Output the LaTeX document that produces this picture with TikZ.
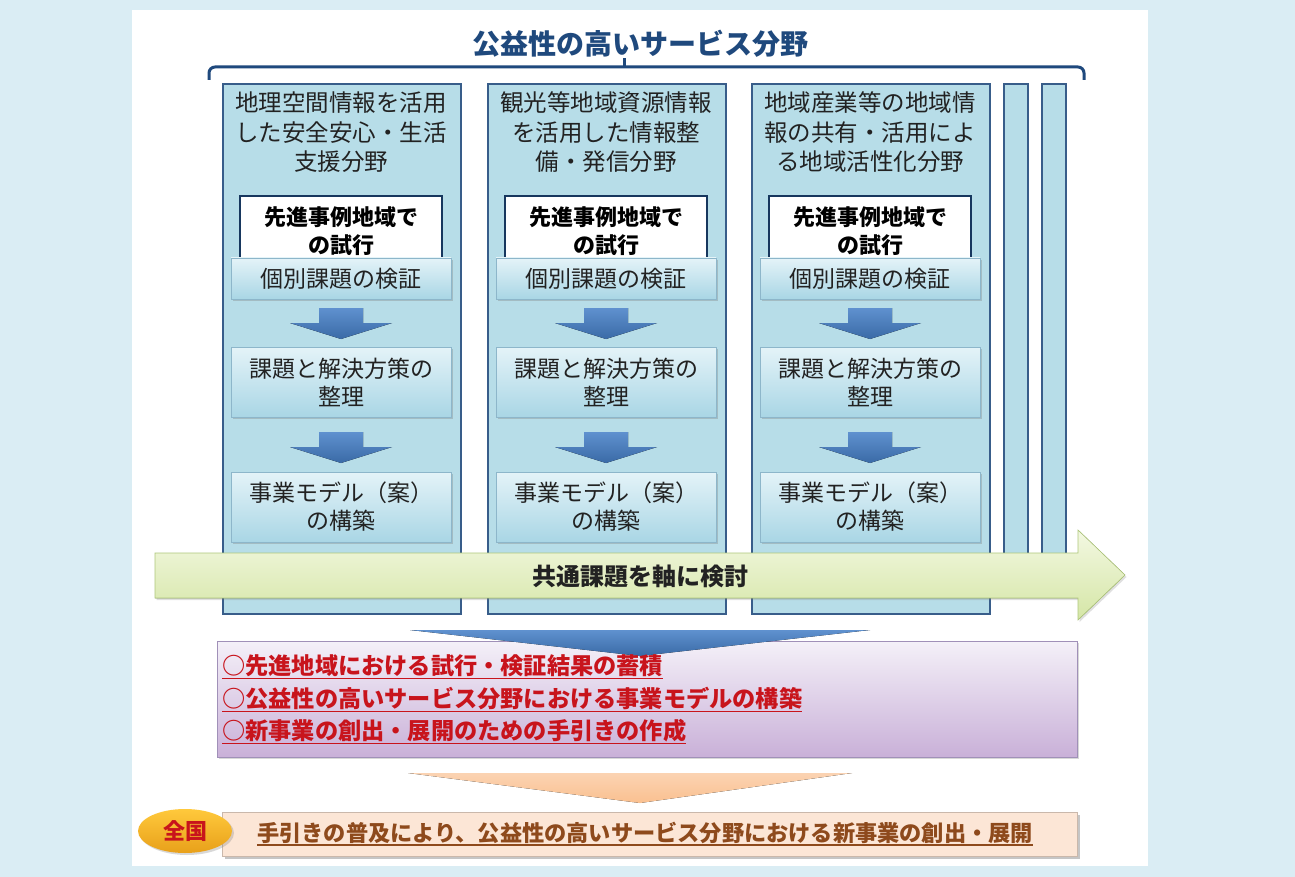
\documentclass[tikz,border=0pt]{standalone}
\usepackage{fontspec}
\setmainfont{Noto Sans CJK JP}
\usetikzlibrary{shadows,shapes.geometric,calc}
\definecolor{bgblue}{HTML}{DAEDF4}
\definecolor{navy}{HTML}{1F497D}
\definecolor{colfill}{HTML}{B7DDE8}
\definecolor{colborder}{HTML}{385D8A}
\definecolor{steptop}{HTML}{E4F3F8}
\definecolor{stepbot}{HTML}{A9D6E5}
\definecolor{stepborder}{HTML}{8DB6CA}
\definecolor{arrtop}{HTML}{5F91CF}
\definecolor{arrbot}{HTML}{3A6AA6}
\definecolor{trialborder}{HTML}{17375E}
\definecolor{txtdark}{HTML}{222222}
\definecolor{greentop}{HTML}{F3F8E2}
\definecolor{greenbot}{HTML}{D5E6A6}
\definecolor{greenborder}{HTML}{AFC77A}
\definecolor{purptop}{HTML}{F4F0F8}
\definecolor{purpbot}{HTML}{C9B0D8}
\definecolor{purpborder}{HTML}{A090B8}
\definecolor{redtxt}{HTML}{C8141C}
\definecolor{orangetri}{HTML}{FAC090}
\definecolor{orangetop}{HTML}{FBD3B2}
\definecolor{barfill}{HTML}{FCE6D6}
\definecolor{browntxt}{HTML}{8E4A1C}
\definecolor{goldtop}{HTML}{FFC93C}
\definecolor{goldbot}{HTML}{E8A01A}
\newcommand\bluedownarrow[2]{%
  \fill[top color=arrtop,bottom color=arrbot]
    ({#1-22},#2) -- ({#1+22},#2) -- ({#1+22},{#2+15}) -- ({#1+51},{#2+15})
    -- (#1,{#2+31}) -- ({#1-51},{#2+15}) -- ({#1-22},{#2+15}) -- cycle;}
\newcommand\makecolumn[3]{%
  \node[colbox,minimum width=238pt,minimum height=530pt,anchor=north west] (col#2) at (#1,83) {};
  \node[headtext] (head#2) at ({#1+119},132.5) {#3};
  \node[trialbox] (trial#2) at ({#1+119},231) {先進事例地域で\\の試行};
  \node[stepbox,minimum height=41pt] (verify#2) at ({#1+119},278.5) {個別課題の検証};
  \bluedownarrow{#1+119}{308}
  \node[stepbox,minimum height=70pt] (sort#2) at ({#1+119},382) {課題と解決方策の\\整理};
  \bluedownarrow{#1+119}{432}
  \node[stepbox,minimum height=70pt] (model#2) at ({#1+119},507) {事業モデル（案）\\の構築};
}
\begin{document}
\begin{tikzpicture}[x=1pt,y=-1pt,
  colbox/.style={draw=colborder,line width=2.2pt,fill=colfill},
  headtext/.style={align=center,inner sep=0pt,text=txtdark,font=\fontsize{23.5}{29.5}\selectfont},
  trialbox/.style={draw=trialborder,line width=2.4pt,fill=white,minimum width=202pt,minimum height=70pt,
    align=center,inner sep=0pt,text=black,font=\fontsize{22}{28}\selectfont\bfseries},
  stepbox/.style={draw=stepborder,line width=0.6pt,top color=steptop,bottom color=stepbot,
    drop shadow={shadow xshift=1.5pt,shadow yshift=-2pt,opacity=0.35},
    minimum width=220pt,align=center,inner sep=0pt,text=txtdark,font=\fontsize{23}{28}\selectfont},
  redline/.style={anchor=west,inner sep=0pt,text=redtxt,font=\fontsize{23.2}{26}\selectfont\bfseries}
]
\useasboundingbox (0,0) rectangle (1295,877);
\fill[bgblue] (0,0) rectangle (1295,877);
\fill[white] (132,10) rectangle (1148,866);

% title and bracket
\node[text=navy,font=\fontsize{28}{32}\selectfont\bfseries] (title) at (640,44) {公益性の高いサービス分野};
\draw[navy,line width=3pt,rounded corners=6pt] (209,80) -- (209,67) -- (1084,67) -- (1084,80);
\coordinate (tickbot) at (624,67);
\coordinate (ticktop) at (624,58);
\draw[navy,line width=3pt] (tickbot) -- (ticktop);

% narrow strips
\node[colbox,minimum width=24pt,minimum height=500pt,anchor=north west] (strip1) at (1003,83) {};
\node[colbox,minimum width=24pt,minimum height=500pt,anchor=north west] (strip2) at (1041,83) {};

% columns
\makecolumn{222}{1}{地理空間情報を活用\\した安全安心・生活\\支援分野}
\makecolumn{487}{2}{観光等地域資源情報\\を活用した情報整\\備・発信分野}
\makecolumn{751}{3}{地域産業等の地域情\\報の共有・活用によ\\る地域活性化分野}

% green axis arrow
\fill[top color=greentop,bottom color=greenbot,draw=greenborder,line width=0.6pt,
  drop shadow={shadow xshift=1.5pt,shadow yshift=-2pt,opacity=0.25}]
  (155,553) -- (1078,553) -- (1078,530) -- (1125,575) -- (1078,620) -- (1078,598) -- (155,598) -- cycle;
\node[text=txtdark,font=\fontsize{24}{28}\selectfont\bfseries] (axis) at (640,576) {共通課題を軸に検討};

% purple result box
\node[draw=purpborder,line width=0.8pt,top color=purptop,bottom color=purpbot,
  drop shadow={shadow xshift=2pt,shadow yshift=-2pt,opacity=0.3},
  minimum width=860pt,minimum height=116pt,anchor=north west] (result) at (217,641) {};
\fill[top color=arrtop,bottom color=arrbot] (410,630) -- (870,630) -- (640,656) -- cycle;
\node[redline] (r1) at (222,666) {○先進地域における試行・検証結果の蓄積};
\node[redline] (r2) at (222,699) {○公益性の高いサービス分野における事業モデルの構築};
\node[redline] (r3) at (222,731) {○新事業の創出・展開のための手引きの作成};
\foreach \r in {r1,r2,r3}
  \draw[redtxt,line width=1.4pt] ([yshift=-1pt]\r.south west) -- ([yshift=-1pt]\r.south east);

% orange triangle
\fill[top color=orangetop,bottom color=orangetri] (408,773) -- (852,773) -- (640,803) -- cycle;

% bottom bar
\node[fill=barfill,draw=barfill!80!black,line width=0.3pt,
  drop shadow={shadow xshift=3pt,shadow yshift=-3pt,opacity=0.45},
  minimum width=855pt,minimum height=44pt,anchor=north west] (bar) at (222,812) {};
\node[anchor=west,inner sep=0pt,text=browntxt,font=\fontsize{22.2}{26}\selectfont\bfseries] (nat) at (257,833) {手引きの普及により、公益性の高いサービス分野における新事業の創出・展開};
\draw[browntxt,line width=1.3pt] ([yshift=-1pt]nat.south west) -- ([yshift=-1pt]nat.south east);
\node[ellipse,minimum width=94pt,minimum height=44pt,top color=goldtop,bottom color=goldbot,
  drop shadow={shadow xshift=2pt,shadow yshift=-2pt,opacity=0.3},
  text=redtxt,font=\fontsize{22}{24}\selectfont\bfseries] (zenkoku) at (185,831) {全国};
\end{tikzpicture}
\end{document}
